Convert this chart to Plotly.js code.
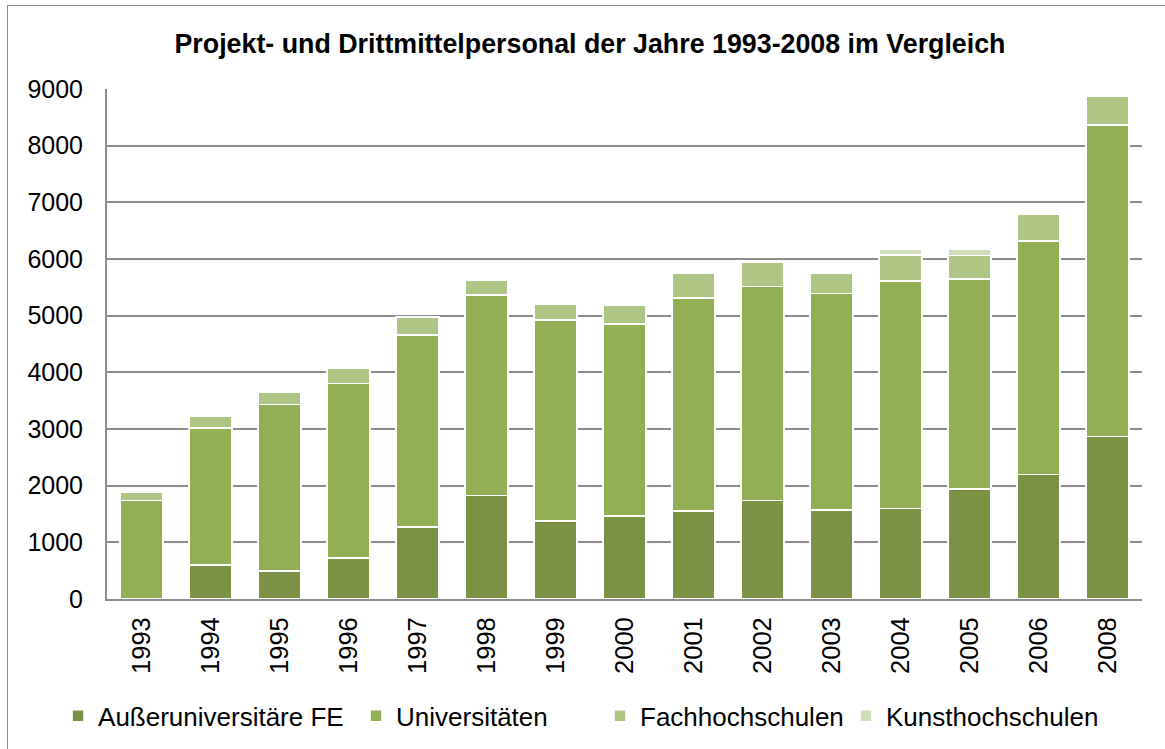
<!DOCTYPE html>
<html>
<head>
<meta charset="utf-8">
<script src="https://cdn.plot.ly/plotly-3.0.1.min.js"></script>
<style>
html,body{margin:0;padding:0;overflow:hidden;background:#fff;}
#wrap{position:relative;width:1165px;height:749px;}
#chart{position:absolute;left:0;top:0;width:1165px;height:749px;}
#frame{position:absolute;left:7px;top:5px;width:1200px;height:800px;border:1.5px solid #8c8c8c;pointer-events:none;z-index:5;}
</style>
</head>
<body>
<div id="wrap"><div id="chart"></div><div id="frame"></div></div>
<script>
const years = ["1993","1994","1995","1996","1997","1998","1999","2000","2001","2002","2003","2004","2005","2006","2008"];
const aussenuni = [0, 600, 490, 720, 1270, 1830, 1380, 1460, 1555, 1740, 1575, 1600, 1945, 2195, 2870];
const universitaeten = [1740, 2420, 2940, 3080, 3390, 3540, 3540, 3390, 3755, 3775, 3815, 4015, 3700, 4125, 5490];
const fachhochschulen = [145, 210, 225, 280, 315, 255, 290, 340, 445, 420, 365, 455, 415, 465, 510];
const kunsthochschulen = [0, 0, 0, 0, 0, 0, 0, 0, 0, 0, 0, 100, 120, 0, 0];
const seriesNames = ["Außeruniversitäre FE", "Universitäten", "Fachhochschulen", "Kunsthochschulen"];
const colors = ["#7b9244", "#93af55", "#aec583", "#cfddb9"];

const font = "Liberation Sans, Arial, sans-serif";
const dataSets = [aussenuni, universitaeten, fachhochschulen, kunsthochschulen];
const legendIds = ["legend", "legend2", "legend2", "legend3"];
const traces = dataSets.map((vals, i) => ({
  type: "bar",
  x: years,
  y: vals,
  name: seriesNames[i],
  legend: legendIds[i],
  marker: {color: colors[i], line: {color: "#ffffff", width: 1.6}},
  hoverinfo: "x+y+name"
}));

const legendFont = {family: font, size: 26, color: "#000000"};
const layout = {
  width: 1165, height: 749,
  margin: {l: 107, r: 23, t: 89, b: 150, autoexpand: false},
  paper_bgcolor: "#ffffff", plot_bgcolor: "#ffffff",
  barmode: "stack",
  bargap: 0.38,
  font: {family: font, color: "#000000", size: 25},
  title: {
    text: "<b>Projekt- und Drittmittelpersonal der Jahre 1993-2008 im Vergleich</b>",
    font: {family: font, size: 26.8, color: "#000000"},
    xref: "container", x: 590/1165, xanchor: "center",
    yref: "container", y: 1 - 44/749, yanchor: "middle"
  },
  xaxis: {
    type: "category",
    tickangle: -90,
    tickfont: {family: font, size: 25.5, color: "#000000"},
    showline: true, linecolor: "#8c8c8c", linewidth: 2,
    showgrid: false, ticks: "",
    ticklabelstandoff: 6
  },
  yaxis: {
    range: [0, 9000], dtick: 1000, tick0: 0,
    tickfont: {family: font, size: 25, color: "#000000"},
    showline: true, linecolor: "#8c8c8c", linewidth: 2,
    showgrid: true, gridcolor: "#8c8c8c", gridwidth: 2,
    zeroline: false, ticks: "",
    ticklabelstandoff: 17,
    fixedrange: true
  },
  showlegend: true,
  legend: {
    orientation: "h", x: -0.0473, xanchor: "left", y: -0.229, yanchor: "middle",
    font: legendFont, itemwidth: 30, bgcolor: "rgba(0,0,0,0)", traceorder: "normal"
  },
  legend2: {
    orientation: "h", x: 0.2406, xanchor: "left", y: -0.229, yanchor: "middle",
    font: legendFont, itemwidth: 30, entrywidth: 199, entrywidthmode: "pixels",
    bgcolor: "rgba(0,0,0,0)", traceorder: "normal"
  },
  legend3: {
    orientation: "h", x: 0.714, xanchor: "left", y: -0.229, yanchor: "middle",
    font: legendFont, itemwidth: 30, bgcolor: "rgba(0,0,0,0)", traceorder: "normal"
  }
};

Plotly.newPlot("chart", traces, layout, {displayModeBar: false, staticPlot: true});
</script>
</body>
</html>
